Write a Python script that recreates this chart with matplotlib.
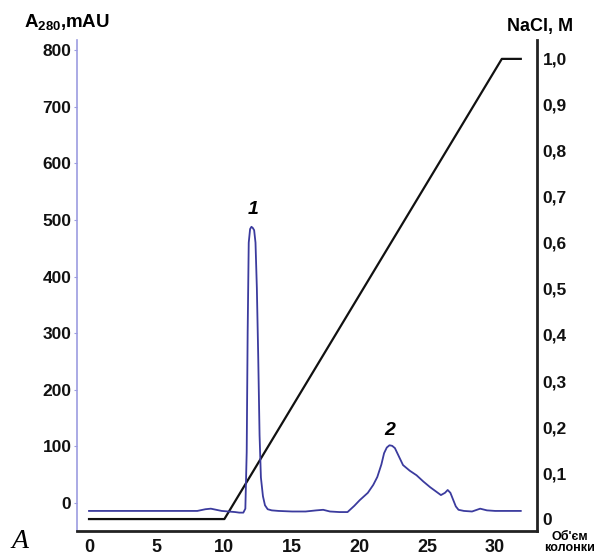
import matplotlib.pyplot as plt
from matplotlib.ticker import FixedLocator, FuncFormatter

plt.rcParams['font.family'] = ['Liberation Sans', 'DejaVu Sans']
plt.rcParams['mathtext.fontset'] = 'custom'
plt.rcParams['mathtext.bf'] = 'Liberation Sans:bold'
plt.rcParams['mathtext.rm'] = 'Liberation Sans:bold'

# absorbance trace (column volume, mAU)
volume = [0, 1, 2, 3, 4, 5, 6, 7, 8, 8.6, 9.0, 9.4, 9.8, 10.3, 10.8, 11.1, 11.4,
          11.55, 11.65, 11.72, 11.8, 11.9, 12.0, 12.1, 12.2, 12.3, 12.4, 12.5,
          12.6, 12.7, 12.85, 13.0, 13.2, 13.5, 14.0, 15.0, 16.0, 16.8, 17.3,
          17.8, 18.5, 19.1, 19.6, 20.0, 20.6, 21.0, 21.3, 21.6, 21.8, 22.0,
          22.2, 22.4, 22.6, 22.9, 23.2, 23.7, 24.2, 24.7, 25.2, 25.6, 26.0,
          26.3, 26.5, 26.7, 26.9, 27.1, 27.3, 27.7, 28.3, 28.9, 29.4, 30.0,
          31.0, 31.9]
absorb = [-14, -14, -14, -14, -14, -14, -14, -14, -14, -11, -10, -12, -14, -15,
          -16, -17, -17, -10, 90, 300, 460, 484, 488, 486, 482, 460, 380, 260,
          120, 45, 12, -4, -11, -13, -14, -15, -15, -13, -12, -15, -16, -16,
          -5, 5, 18, 32, 46, 68, 88, 98, 102, 101, 97, 82, 67, 57, 49, 38, 28,
          21, 14, 18, 23, 18, 6, -6, -12, -14, -15, -10, -13, -14, -14, -14]

# NaCl gradient
grad_volume = [0, 10, 30.5, 31.9]
nacl = [0, 0, 1.0, 1.0]

left_ticks = [0, 100, 200, 300, 400, 500, 600, 700, 800]
right_ticks = [0, 0.1, 0.2, 0.3, 0.4, 0.5, 0.6, 0.7, 0.8, 0.9, 1.0]
x_ticks = [0, 5, 10, 15, 20, 25, 30]

fig = plt.figure(figsize=(6.09, 5.55), dpi=100)
ax = fig.add_axes([0.1264, 0.0432, 0.7554, 0.8847])
ax2 = ax.twinx()

ax.plot(volume, absorb, color='#3b3b9e', lw=1.3)
ax2.plot(grad_volume, nacl, color='#111111', lw=1.6)

ax.set_xlim(-0.89, 33.1)
ax.set_ylim(-49.5, 818)
ax2.set_ylim(-0.026, 1.041)

ax.set_zorder(2)
ax.patch.set_visible(False)

for a in (ax, ax2):
    a.spines['top'].set_visible(False)
ax.spines['right'].set_visible(False)
ax.spines['left'].set_color('#9c9ce0')
ax.spines['left'].set_linewidth(1.2)
ax.spines['bottom'].set_linewidth(2.0)
ax.spines['bottom'].set_color('#222222')
ax2.spines['right'].set_linewidth(2.0)
ax2.spines['right'].set_color('#222222')
ax2.spines['left'].set_visible(False)
ax2.spines['bottom'].set_visible(False)

ax.xaxis.set_major_locator(FixedLocator(x_ticks))
ax.yaxis.set_major_locator(FixedLocator(left_ticks))
ax2.yaxis.set_major_locator(FixedLocator(right_ticks))
ax2.yaxis.set_major_formatter(FuncFormatter(
    lambda v, p: '0' if v == 0 else f'{v:.1f}'.replace('.', ',')))

ax.tick_params(axis='x', length=0, pad=6, labelsize=13)
ax.tick_params(axis='y', length=2, color='#9c9ce0', pad=2, labelsize=12.5)
ax2.tick_params(axis='y', length=0, pad=4, labelsize=12.5)
for lab in ax.get_xticklabels() + ax.get_yticklabels() + ax2.get_yticklabels():
    lab.set_fontweight('bold')
    lab.set_color('#111111')

fig.text(24 / 609, 1 - 22 / 555, r'$\mathbf{A_{280}}$,mAU', fontsize=13.5,
         fontweight='bold', ha='left', va='center')
fig.text(540 / 609, 1 - 27 / 555, 'NaCl, M', fontsize=13,
         fontweight='bold', ha='center', va='center')
fig.text(570 / 609, 1 - 537 / 555, "Об'єм", fontsize=9,
         fontweight='bold', ha='center', va='center')
fig.text(570 / 609, 1 - 548 / 555, 'колонки', fontsize=9,
         fontweight='bold', ha='center', va='center')
fig.text(20 / 609, 1 - 541 / 555, 'A', fontsize=20, family='Liberation Serif',
         style='italic', ha='center', va='center')

ax.text(12.1, 518, '1', fontsize=14, fontweight='bold', style='italic',
        ha='center', va='center')
ax.text(22.2, 128, '2', fontsize=14, fontweight='bold', style='italic',
        ha='center', va='center')

fig.savefig('out.png', dpi=100)
